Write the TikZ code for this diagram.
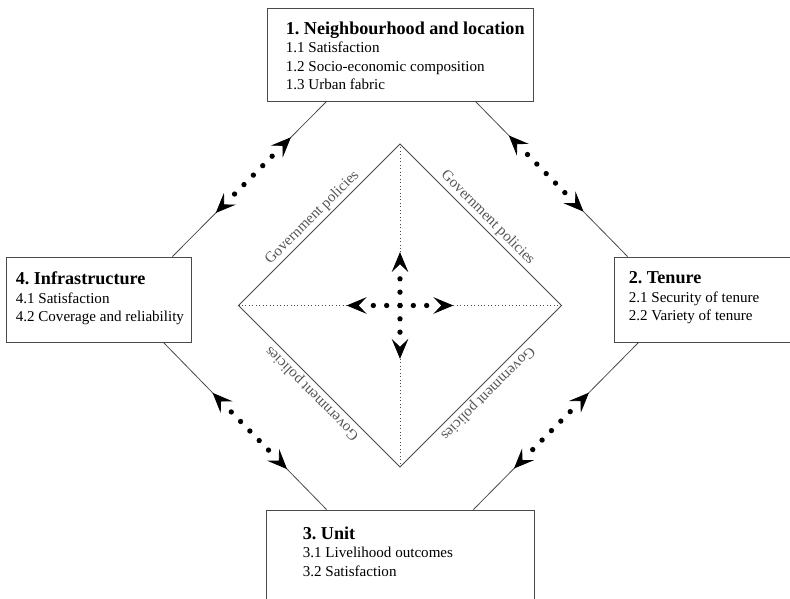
\documentclass[tikz,border=0pt]{standalone}
\usepackage{fontspec}
\setmainfont{Liberation Serif}
\usetikzlibrary{arrows.meta,calc}
\definecolor{Edge}{HTML}{4A4A4A}
\definecolor{Gov}{HTML}{555555}
\frenchspacing
\newcommand{\hd}[1]{{\fontsize{13.6}{13.9}\selectfont\bfseries #1}}
\tikzset{
  frame/.style={draw=Edge, line width=0.7pt, inner sep=0pt},
  txt/.style={anchor=north west, align=left, inner sep=0pt, font=\fontsize{11.3}{13.9}\selectfont},
  tip/.style={-{Stealth[reversed, length=15pt, width=12.5pt, inset=6pt, color=black]}},
  link/.style={draw=Edge, line width=0.6pt, tip},
  axis/.style={draw=Edge, line width=0.6pt, dotted, tip},
  gov/.style={Gov, anchor=south, inner sep=2pt, font=\fontsize{11.3}{13.9}\selectfont}
}

\begin{document}
\begin{tikzpicture}[x=0.75pt,y=-0.75pt]
  \useasboundingbox (0,0) rectangle (790,599);
  \clip (0,0) rectangle (790,599);

  % the four boxes
  \node[frame, minimum width=199.5pt, minimum height=69.75pt] (nbh) at (400,54.5) {};
  \node[frame, minimum width=139.5pt, minimum height=63.75pt] (ten) at (707,299.5) {};
  \node[frame, minimum width=201pt, minimum height=69.75pt] (unit) at (400,556.5) {};
  \node[frame, minimum width=138.75pt, minimum height=63.75pt] (inf) at (98.5,299.5) {};

  \node[txt] (nbhtxt) at ([shift={(19,14)}]nbh.north west)
    {\hd{1. Neighbourhood and location}\\1.1 Satisfaction\\1.2 Socio-economic composition\\1.3 Urban fabric};
  \node[txt] (tentxt) at ([shift={(15,15)}]ten.north west)
    {\hd{2. Tenure}\\2.1 Security of tenure\\2.2 Variety of tenure};
  \node[txt] (unittxt) at ([shift={(37,17)}]unit.north west)
    {\hd{3. Unit}\\3.1 Livelihood outcomes\\3.2 Satisfaction};
  \node[txt] (inftxt) at ([shift={(10,15)}]inf.north west)
    {\hd{4. Infrastructure}\\4.1 Satisfaction\\4.2 Coverage and reliability};

  % where the links meet the boxes
  \coordinate (nbhL) at ([shift={(60,0)}]nbh.south west);
  \coordinate (nbhR) at ([shift={(-58,0)}]nbh.south east);
  \coordinate (infT) at ([shift={(-19,0)}]inf.north east);
  \coordinate (infB) at ([shift={(-28,0)}]inf.south east);
  \coordinate (tenT) at ([shift={(14,0)}]ten.north west);
  \coordinate (tenB) at ([shift={(25,0)}]ten.south west);
  \coordinate (unitL) at ([shift={(61,0)}]unit.north west);
  \coordinate (unitR) at ([shift={(-61,0)}]unit.north east);

  \foreach \a/\b/\m in {nbhL/infT/0.475, nbhR/tenT/0.465, infB/unitL/0.53, tenB/unitR/0.5275} {
    \coordinate (m) at ($(\a)!\m!(\b)$);
    \draw[link] (\a) -- ($(m)!25pt!(\a)$);
    \draw[link] (\b) -- ($(m)!25pt!(\b)$);
    \foreach \t in {-2,...,2} {\fill ($(m)!\t*10pt!(\a)$) circle (2pt);}
  }

  % government policies diamond
  \coordinate (dc) at (400,305.5);
  \coordinate (dt) at (400,144);
  \coordinate (dr) at (561.5,305.5);
  \coordinate (db) at (400,467);
  \coordinate (dl) at (238.5,305.5);
  \draw[Edge, line width=0.6pt] (dt) -- (dr) -- (db) -- (dl) -- cycle;
  \foreach \v in {dt,dr,db,dl} {\draw[axis] (\v) -- ($(dc)!25pt!(\v)$);}
  \foreach \t in {-2,...,2} {
    \fill ($(dc)!\t*10pt!(dr)$) circle (2pt);
    \fill ($(dc)!\t*10pt!(dt)$) circle (2pt);
  }
  \node[gov, rotate=45] (gtl) at ($(dl)!0.5!(dt)$) {Government policies};
  \node[gov, rotate=-45] (gtr) at ($(dt)!0.5!(dr)$) {Government policies};
  \node[gov, rotate=-135] (gbr) at ($(dr)!0.5!(db)$) {Government policies};
  \node[gov, rotate=135] (gbl) at ($(db)!0.5!(dl)$) {Government policies};
\end{tikzpicture}
\end{document}
